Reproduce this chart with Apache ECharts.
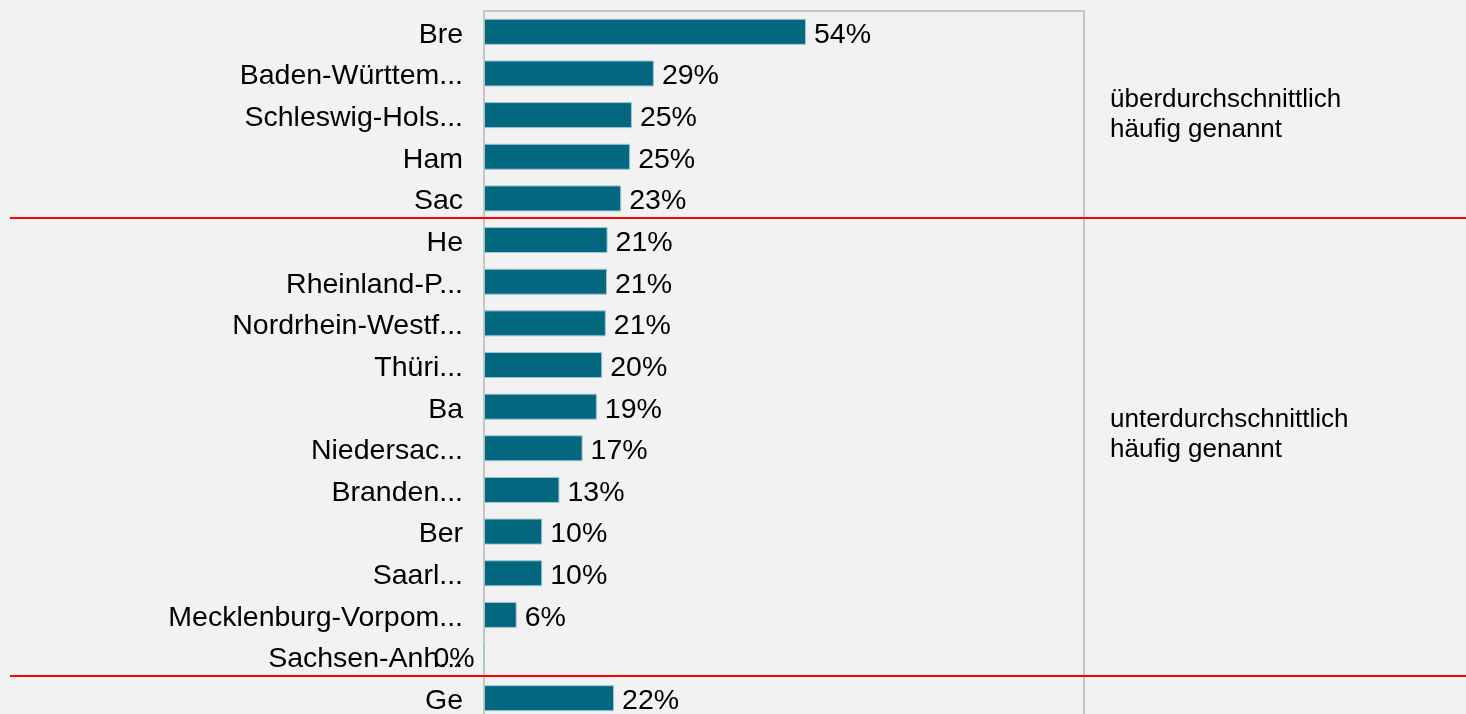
<!DOCTYPE html>
<html>
<head>
<meta charset="utf-8">
<script src="https://cdn.jsdelivr.net/npm/echarts@6/dist/echarts.min.js"></script>
<style>
html,body{margin:0;padding:0;background:#f2f2f2;overflow:hidden;}
#main{width:1466px;height:730px;}
</style>
</head>
<body>
<div id="main"></div>
<script>
var categories = ['Bre','Baden-Württem...','Schleswig-Hols...','Ham','Sac','He','Rheinland-P...','Nordrhein-Westf...','Thüri...','Ba','Niedersac...','Branden...','Ber','Saarl...','Mecklenburg-Vorpom...','Sachsen-Anh...','Ge'];
var values = [54.2, 28.6, 24.9, 24.6, 23.1, 20.8, 20.7, 20.5, 19.9, 19.0, 16.6, 12.7, 9.8, 9.8, 5.5, 0, 21.9];
var groupTexts = ['überdurchschnittlich\nhäufig genannt', 'unterdurchschnittlich\nhäufig genannt'];
var separatorsAfter = ['Sac', 'Sachsen-Anh...'];

var chart = echarts.init(document.getElementById('main'));
var FONT = "'Liberation Sans', Arial, sans-serif";

var seriesData = values.map(function (v) {
  var item = { value: v };
  if (v === 0) item.label = { offset: [-59, 3] };
  return item;
});

chart.setOption({
  backgroundColor: '#f2f2f2',
  animation: false,
  grid: {
    show: true,
    left: 484, width: 600, top: 11, height: 708,
    borderColor: '#c6c6c6', borderWidth: 2,
    backgroundColor: 'transparent'
  },
  xAxis: { type: 'value', min: 0, max: 101, show: false },
  yAxis: {
    type: 'category', inverse: true, data: categories,
    axisLine: { show: false }, axisTick: { show: false },
    axisLabel: { fontSize: 28.5, color: '#000', margin: 21, fontFamily: FONT, verticalAlign: 'top', lineHeight: 6 }
  },
  series: [{
    type: 'bar',
    data: seriesData,
    barWidth: 26,
    itemStyle: { color: '#03677f', borderColor: '#9cc7d1', borderWidth: 1 },
    label: {
      show: true, position: 'right', distance: 8, offset: [0, 3],
      fontSize: 28.5, color: '#000', fontFamily: FONT,
      formatter: function (p) { return Math.round(p.value) + '%'; }
    }
  }]
});

function boundaryY(cat) {
  var i = categories.indexOf(cat);
  var a = chart.convertToPixel({ yAxisIndex: 0 }, categories[i]);
  var b = chart.convertToPixel({ yAxisIndex: 0 }, categories[i + 1]);
  return Math.round((a + b) / 2) - 1;
}

var graphics = [];
separatorsAfter.forEach(function (c) {
  var y = boundaryY(c);
  graphics.push({
    type: 'line', z: 100,
    shape: { x1: 10, y1: y, x2: 1466, y2: y },
    style: { stroke: '#ff0000', lineWidth: 2 }
  });
});
var textYs = [115, 435];
groupTexts.forEach(function (t, i) {
  graphics.push({
    type: 'text', x: 1110, y: textYs[i], z: 100,
    style: { text: t, fontSize: 26, lineHeight: 30, fill: '#000', fontFamily: FONT, verticalAlign: 'middle', align: 'left' }
  });
});
chart.setOption({ graphic: graphics });
</script>
</body>
</html>
